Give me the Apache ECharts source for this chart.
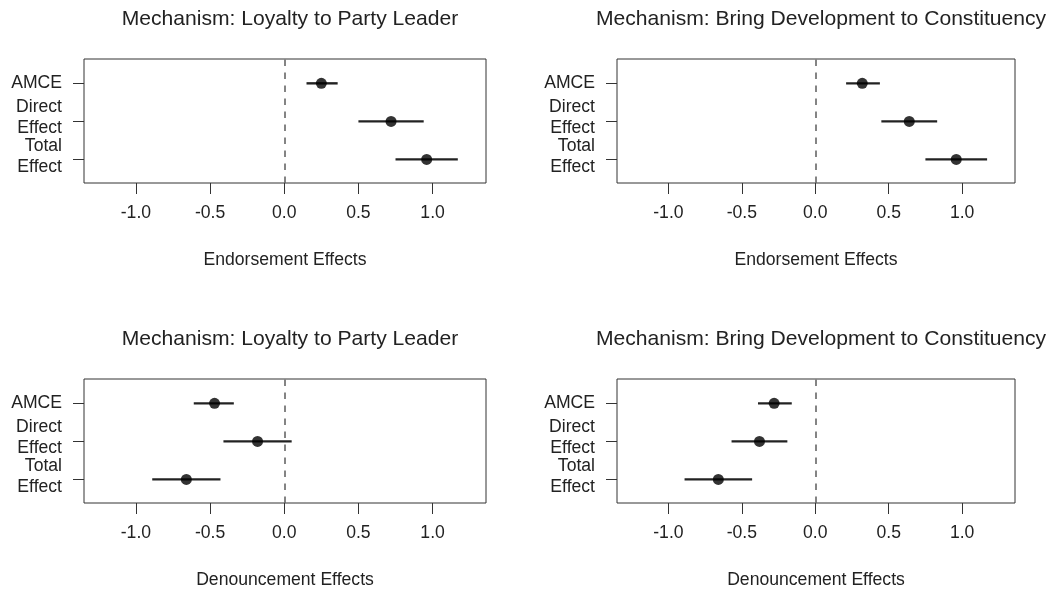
<!DOCTYPE html>
<html>
<head>
<meta charset="utf-8">
<script src="https://cdn.jsdelivr.net/npm/echarts@6/dist/echarts.min.js"></script>
<style>
  html, body { margin: 0; padding: 0; background: #fff; }
  #chart { width: 1047px; height: 590px; }
</style>
</head>
<body>
<div id="chart"></div>
<script>
// row labels, top to bottom, and their y positions
const rowLabels = ['AMCE', 'Direct\nEffect', 'Total\nEffect']
const rowPos = [3, 2, 1]
const xTicks = [-1, -0.5, 0, 0.5, 1]

const titles = [
  'Mechanism: Loyalty to Party Leader',
  'Mechanism: Bring Development to Constituency',
  'Mechanism: Loyalty to Party Leader',
  'Mechanism: Bring Development to Constituency'
]
const xNames = ['Endorsement Effects', 'Endorsement Effects', 'Denouncement Effects', 'Denouncement Effects']

// estimates and 95% intervals, per panel, rows AMCE / Direct / Total
const est1 = [0.25, 0.72, 0.96]
const lo1 = [0.15, 0.50, 0.75]
const hi1 = [0.36, 0.94, 1.17]

const est2 = [0.32, 0.64, 0.96]
const lo2 = [0.21, 0.45, 0.75]
const hi2 = [0.44, 0.83, 1.17]

const est3 = [-0.47, -0.18, -0.66]
const lo3 = [-0.61, -0.41, -0.89]
const hi3 = [-0.34, 0.05, -0.43]

const est4 = [-0.28, -0.38, -0.66]
const lo4 = [-0.39, -0.57, -0.89]
const hi4 = [-0.16, -0.19, -0.43]

const panels = [
  { est: est1, lo: lo1, hi: hi1 },
  { est: est2, lo: lo2, hi: hi2 },
  { est: est3, lo: lo3, hi: hi3 },
  { est: est4, lo: lo4, hi: hi4 }
]

// grid boxes in px
const boxes = [
  { left: 84, width: 402, top: 59, height: 124 },
  { left: 617, width: 398, top: 59, height: 124 },
  { left: 84, width: 402, top: 379, height: 124 },
  { left: 617, width: 398, top: 379, height: 124 }
]

const font = 'Liberation Sans, Arial, Helvetica, sans-serif'
const ink = '#222'
const axisSize = 17.6

const chart = echarts.init(document.getElementById('chart'))

const grid = [], xAxis = [], yAxis = [], series = [], title = []

// two-line labels sit a little above their tick, as in R's axis()
const labelAt = v => rowLabels[rowPos.indexOf(Math.round(v))]
const yLabelStyle = {
  margin: 22,
  fontFamily: font, fontSize: axisSize, color: ink, lineHeight: 21, align: 'right',
  formatter: labelAt
}

panels.forEach((p, i) => {
  const b = boxes[i]
  grid.push({
    left: b.left, width: b.width, top: b.top, height: b.height,
    show: true, borderColor: '#333', borderWidth: 1, backgroundColor: 'transparent'
  })
  title.push({
    text: titles[i],
    left: b.left + b.width / 2,
    top: b.top - 55,
    textAlign: 'center',
    textStyle: { fontFamily: font, fontSize: 21.1, fontWeight: 'normal', color: ink }
  })
  xAxis.push({
    type: 'value',
    gridIndex: i,
    min: -1.35,
    max: 1.36,
    name: xNames[i],
    nameLocation: 'middle',
    nameGap: 68,
    nameTextStyle: { fontFamily: font, fontSize: axisSize, color: ink, verticalAlign: 'top' },
    axisLine: { show: false, onZero: false },
    axisTick: { show: true, length: 11, customValues: xTicks, lineStyle: { color: '#333', width: 1 } },
    axisLabel: {
      customValues: xTicks,
      margin: 21,
      fontFamily: font, fontSize: axisSize, color: ink,
      formatter: v => v.toFixed(1)
    },
    splitLine: { show: false }
  })
  // main y axis: ticks plus the AMCE and Total labels
  yAxis.push({
    type: 'value',
    gridIndex: i,
    position: 'left',
    offset: 0,
    min: 0.38,
    max: 3.64,
    axisLine: { show: false, onZero: false },
    axisTick: { show: true, length: 11, customValues: [1, 2, 3], lineStyle: { color: '#333', width: 1 } },
    axisLabel: Object.assign({ customValues: [1.08, 3] }, yLabelStyle),
    splitLine: { show: false }
  })
  // second y axis, same scale, only for the Direct label (avoids overlap hiding)
  yAxis.push({
    type: 'value',
    gridIndex: i,
    position: 'left',
    offset: 0,
    min: 0.38,
    max: 3.64,
    axisLine: { show: false, onZero: false },
    axisTick: { show: false },
    axisLabel: Object.assign({ customValues: [2.1] }, yLabelStyle),
    splitLine: { show: false }
  })
  series.push({
    type: 'custom',
    xAxisIndex: i,
    yAxisIndex: 2 * i,
    silent: true,
    data: rowPos.map((y, k) => [p.lo[k], p.hi[k], y]),
    encode: { x: [0, 1], y: 2 },
    renderItem: (params, api) => {
      const a = api.coord([api.value(0), api.value(2)])
      const c = api.coord([api.value(1), api.value(2)])
      return {
        type: 'line',
        shape: { x1: a[0], y1: a[1], x2: c[0], y2: c[1] },
        style: { stroke: '#222', lineWidth: 2.4 }
      }
    },
    markLine: {
      silent: true,
      symbol: 'none',
      label: { show: false },
      lineStyle: { color: '#666', type: [6.5, 6.5], width: 1.6 },
      data: [{ xAxis: 0 }]
    },
    z: 2
  })
  series.push({
    type: 'scatter',
    xAxisIndex: i,
    yAxisIndex: 2 * i,
    silent: true,
    symbol: 'circle',
    symbolSize: 11,
    itemStyle: { color: '#000' },
    data: rowPos.map((y, k) => [p.est[k], y]),
    z: 3
  })
})

chart.setOption({
  animation: false,
  backgroundColor: '#fff',
  title,
  grid,
  xAxis,
  yAxis,
  series
})
</script>
</body>
</html>
